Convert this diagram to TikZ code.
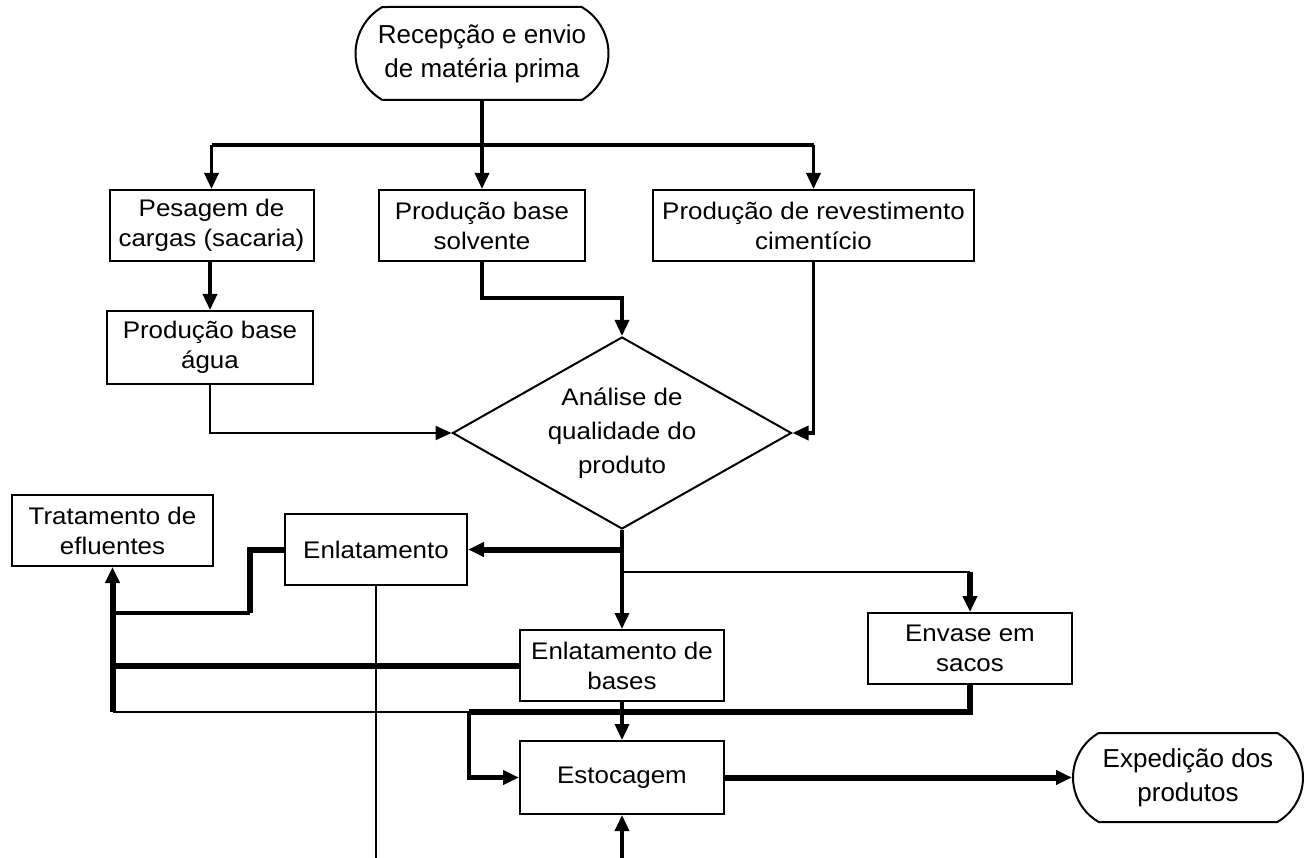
\documentclass[tikz,border=0pt]{standalone}
\usepackage{fontspec}
\setmainfont{Liberation Sans}
\newfontfamily\boxfont[FakeStretch=1.08]{Liberation Sans}
\usetikzlibrary{arrows.meta,shapes.geometric,shapes.misc,calc}

\begin{document}
\begin{tikzpicture}[x=1pt,y=-1pt,
  every node/.style={inner sep=0pt, align=center},
  procbox/.style={draw, line width=2pt, rectangle, font=\boxfont\fontsize{24}{30}\selectfont},
  term/.style={draw, line width=2pt, rounded rectangle, rounded rectangle arc length=120,
    font=\fontsize{26}{34}\selectfont},
  decision/.style={draw, line width=2pt, diamond, aspect=1.76, font=\boxfont\fontsize{24}{34}\selectfont},
  tip/.style={-{Triangle[length=16pt,width=14pt]}},
  w2/.style={line width=2.2pt},
  w3/.style={line width=3.5pt},
  w4/.style={line width=4.5pt},
  w5/.style={line width=6pt}
]
\useasboundingbox (0,0) rectangle (1306,858);
\fill[white] (0,0) rectangle (1306,858);

% process steps
\node[term, minimum width=253pt, minimum height=93pt] (recv) at (482,53.5) {Recepção e envio\\de matéria prima};
\node[procbox, minimum width=204pt, minimum height=71pt] (pes) at (211.5,225.5) {Pesagem de\\cargas (sacaria)};
\node[procbox, minimum width=206pt, minimum height=71pt] (solv) at (482,225.5) {Produção base\\solvente};
\node[procbox, minimum width=321pt, minimum height=71pt] (rev) at (813.5,225.5) {Produção de revestimento\\cimentício};
\node[procbox, minimum width=206pt, minimum height=73pt] (agua) at (210,347.5) {Produção base\\água};
\node[decision, minimum width=339pt, minimum height=192pt] (dia) at (622,433) {Análise de\\qualidade do\\produto};
\node[procbox, minimum width=201pt, minimum height=71pt] (trat) at (112.5,530.5) {Tratamento de\\efluentes};
\node[procbox, minimum width=182pt, minimum height=71pt] (enl) at (376,549.5) {Enlatamento};
\node[procbox, minimum width=204pt, minimum height=71pt] (enlb) at (622,665.5) {Enlatamento de\\bases};
\node[procbox, minimum width=204pt, minimum height=71pt] (env) at (970,648.5) {Envase em\\sacos};
\node[procbox, minimum width=204pt, minimum height=73pt] (est) at (622,777.5) {Estocagem};
\node[term, minimum width=230pt, minimum height=89pt] (exp) at (1188,777.5) {Expedição dos\\produtos};

% junctions and open ends
\coordinate (jt) at (482,145);
\coordinate (jenv) at (622,572);
\coordinate (jeff) at (250,613);
\coordinate (jbus) at (469,712);
\coordinate (bot1) at (376,858);
\coordinate (bot2) at (622,858);

% distribution of raw material
\draw[w4] (recv.south) -- (jt);
\draw[w4] (pes.north |- jt) -- (rev.north |- jt);
\draw[w3,tip] (pes.north |- jt) -- (pes.north);
\draw[w3,tip] (jt) -- (solv.north);
\draw[w3,tip] (rev.north |- jt) -- (rev.north);
\draw[w3,tip] (pes.south -| agua.north) -- (agua.north);

% flows into quality analysis
\draw[w2,tip] (agua.south) |- (dia.west);
\draw[w3,tip] (solv.south) -- ++(0,36) -| (dia.north);
\draw[w3,tip] (rev.south) |- (dia.east);

% outputs of quality analysis
\draw[w3,tip] (dia.south) -- (enlb.north);
\draw[w5,tip] (dia.south |- enl.east) -- (enl.east);
\draw[w2] (jenv) -- (env.north |- jenv);
\draw[w5,tip] (env.north |- jenv) -- (env.north);

% effluent lines
\draw[w5] (enl.west) -| (jeff);
\draw[w4] (jeff) -- (jeff -| trat.south);
\draw[w5,tip] (trat.south |- jbus) -- (trat.south);
\draw[w5] (enlb.west) -- (enlb.west -| trat.south);
\draw[w2] (trat.south |- jbus) -- (jbus);
\draw[w5] (env.south) |- (jbus);
\draw[w2] (enl.south) -- (bot1);

% storage and shipping
\draw[w4,tip] (jbus) |- (est.west);
\draw[w3,tip] (enlb.south) -- (est.north);
\draw[w3,tip] (bot2) -- (est.south);
\draw[w5,tip] (est.east) -- (exp.west);
\end{tikzpicture}
\end{document}
